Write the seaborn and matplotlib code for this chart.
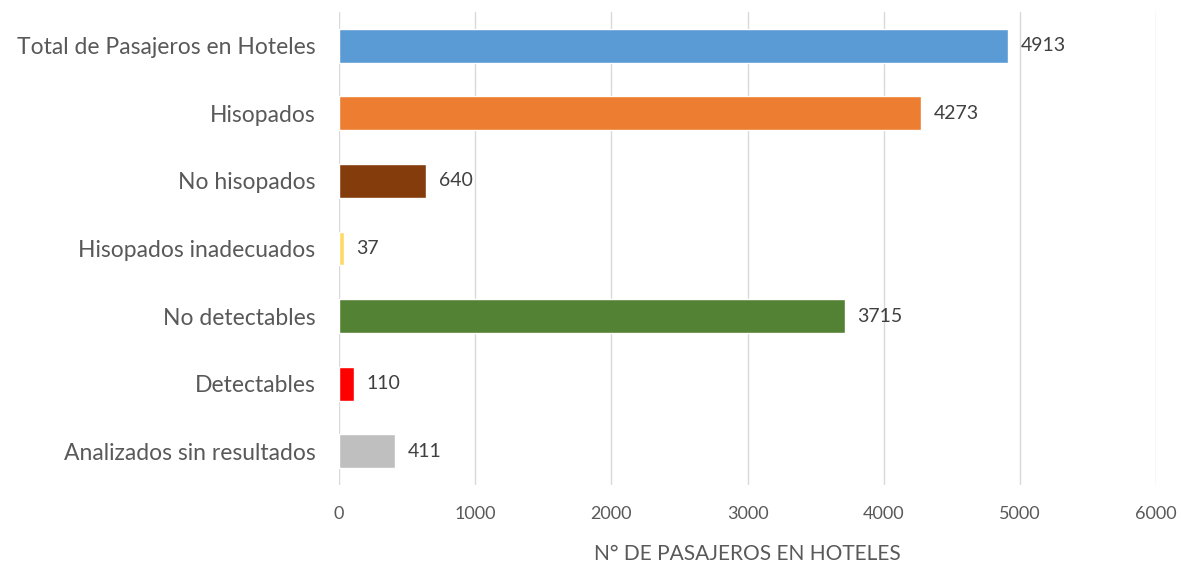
import matplotlib
matplotlib.use("Agg")
import matplotlib.pyplot as plt
import seaborn as sns

categories = [
    "Total de Pasajeros en Hoteles",
    "Hisopados",
    "No hisopados",
    "Hisopados inadecuados",
    "No detectables",
    "Detectables",
    "Analizados sin resultados",
]
values = [4913, 4273, 640, 37, 3715, 110, 411]
colors = ["#5B9BD5", "#ED7D31", "#843C0C", "#FFD966", "#548235", "#FF0000", "#BFBFBF"]
x_ticks = [0, 1000, 2000, 3000, 4000, 5000, 6000]

sns.set_style("white")
plt.rcParams["font.family"] = ["Lato", "DejaVu Sans"]
text_color = "#595959"

fig = plt.figure(figsize=(11.81, 5.62), dpi=100)
ax = fig.add_axes([0.287, 0.137, 0.692, 0.842])

sns.barplot(x=values, y=categories, hue=categories, palette=colors,
            legend=False, width=0.5, orient="h", ax=ax, saturation=1)

for cont in ax.containers:
    ax.bar_label(cont, padding=9, fontsize=14, color="#404040")

ax.set_xlim(0, 6000)
ax.set_ylim(6.5, -0.5)
ax.set_xticks(x_ticks)
ax.set_xticklabels([str(t) for t in x_ticks], fontsize=13, color=text_color)
ax.tick_params(axis="y", labelsize=16.5, labelcolor=text_color, length=0, pad=17)
ax.tick_params(axis="x", length=0, pad=15)
ax.grid(axis="x", color="#D9D9D9", linewidth=1)
ax.set_axisbelow(True)
for s in ax.spines.values():
    s.set_visible(False)
ax.set_xlabel("N° DE PASAJEROS EN HOTELES", fontsize=15, color=text_color, labelpad=16)
ax.set_ylabel("")

fig.savefig("out.png", dpi=100)
plt.close()
